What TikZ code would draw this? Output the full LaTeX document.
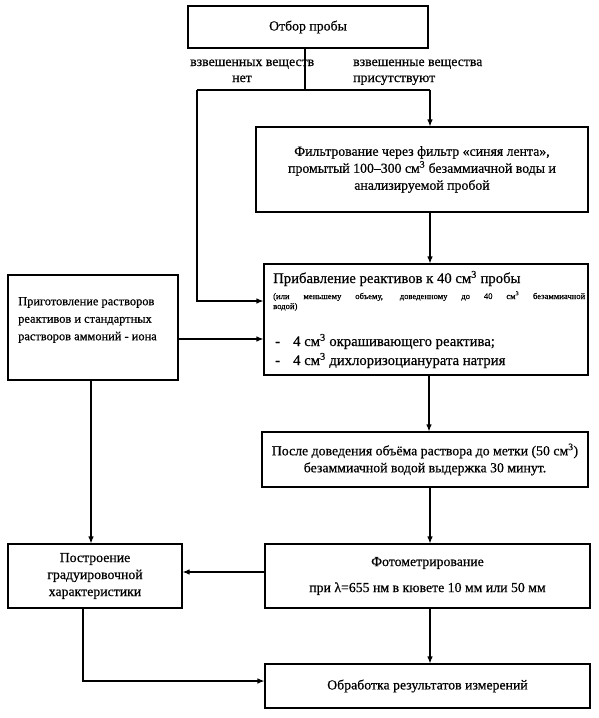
\documentclass[tikz,border=0pt]{standalone}
\usepackage{fontspec}
\setmainfont{Liberation Serif}[FakeBold=0.55]
\usetikzlibrary{arrows.meta,calc}
\newcommand{\mainfs}{\fontsize{13.8}{17}\selectfont}
\newcommand{\bigfs}{\fontsize{14.7}{18}\selectfont}
\newcommand{\prepfs}{\fontsize{12.4}{17.5}\selectfont}
\newcommand{\smallfs}{\fontsize{8.6}{10}\selectfont}
\newcommand{\cmc}{см\textsuperscript{3}}
\begin{document}
\begin{tikzpicture}[x=1pt,y=-1pt,
  box/.style={draw,line width=1.1pt,inner sep=0pt,font=\mainfs,align=center},
  txt/.style={inner sep=0pt,font=\mainfs},
  arr/.style={line width=1.1pt,-{Latex[length=7pt,width=5.5pt]}},
  ln/.style={line width=1.1pt}]
\useasboundingbox (0,0) rectangle (598,718);
% boxes
\node[box,minimum width=240pt,minimum height=42pt] (b1) at (308,27) {Отбор пробы};
\node[box,minimum width=332pt,minimum height=85pt] (filt) at (422,169.5)
  {Фильтрование через фильтр «синяя лента»,\\промытый 100–300 \cmc{} безаммиачной воды и\\анализируемой пробой};
\node[box,minimum width=324pt,minimum height=111pt] (add) at (426,319.5) {};
\node[box,minimum width=170pt,minimum height=105pt] (prep) at (93,327.5) {};
\node[box,minimum width=326pt,minimum height=55pt] (post) at (425,459.5)
  {После доведения объёма раствора до метки (50 \cmc)\\безаммиачной водой выдержка 30 минут.};
\node[box,minimum width=174pt,minimum height=64pt] (graph) at (95,576)
  {Построение\\градуировочной\\характеристики};
\node[box,minimum width=325pt,minimum height=64pt] (foto) at (427.5,576)
  {Фотометрирование\\[9pt]при λ=655 нм в кювете 10 мм или 50 мм};
\node[box,minimum width=325pt,minimum height=44pt] (proc) at (427.5,686)
  {Обработка результатов измерений};
% texts inside add and prep
\node[inner sep=0pt,anchor=west,align=left,font=\prepfs] (preptxt) at (18,320)
  {Приготовление растворов\\реактивов и стандартных\\растворов аммоний - иона};
\node[inner sep=0pt,font=\bigfs,anchor=base west] (add1) at (273,283) {Прибавление реактивов к 40 \cmc{} пробы};
\node[inner sep=0pt,anchor=base west,text width=312pt,align=justify,font=\smallfs] (add2) at (273,299)
  {(или меньшему объему, доведенному до 40 \cmc{} безаммиачной\linebreak водой)};
\node[inner sep=0pt,font=\bigfs,anchor=base west] (d1) at (275,346) {-};
\node[inner sep=0pt,font=\bigfs,anchor=base west] (i1) at (293,346) {4 \cmc{} окрашивающего реактива;};
\node[inner sep=0pt,font=\bigfs,anchor=base west] (d2) at (275,365) {-};
\node[inner sep=0pt,font=\bigfs,anchor=base west] (i2) at (293,365) {4 \cmc{} дихлоризоцианурата натрия};
% labels
\node[txt,anchor=base west] (l1) at (190,66) {взвешенных веществ};
\node[txt,anchor=base] (l2) at (242,82) {нет};
\node[txt,anchor=base west] (l3) at (353,66) {взвешенные вещества};
\node[txt,anchor=base west] (l4) at (353,82) {присутствуют};
% connectors
\coordinate (split) at (305,90);
\coordinate (jL) at (197,90);
\coordinate (jR) at (430,90);
\draw[ln] (split |- b1.south) -- (split);
\draw[ln] (jL) -- (jR);
\draw[arr] (jR) -- (jR |- filt.north);
\draw[arr] (jL) |- (add.west |- 0,301);
\draw[arr] (430,0 |- filt.south) -- (430,0 |- add.north);
\draw[arr] (prep.east |- 0,339) -- (add.west |- 0,339);
\draw[arr] (429,0 |- add.south) -- (429,0 |- post.north);
\draw[arr] (430,0 |- post.south) -- (430,0 |- foto.north);
\draw[arr] (91,0 |- prep.south) -- (91,0 |- graph.north);
\draw[arr] (foto.west |- 0,572) -- (graph.east |- 0,572);
\draw[arr] (430,0 |- foto.south) -- (430,0 |- proc.north);
\draw[arr] (83,0 |- graph.south) |- (proc.west |- 0,681);
\end{tikzpicture}
\end{document}
